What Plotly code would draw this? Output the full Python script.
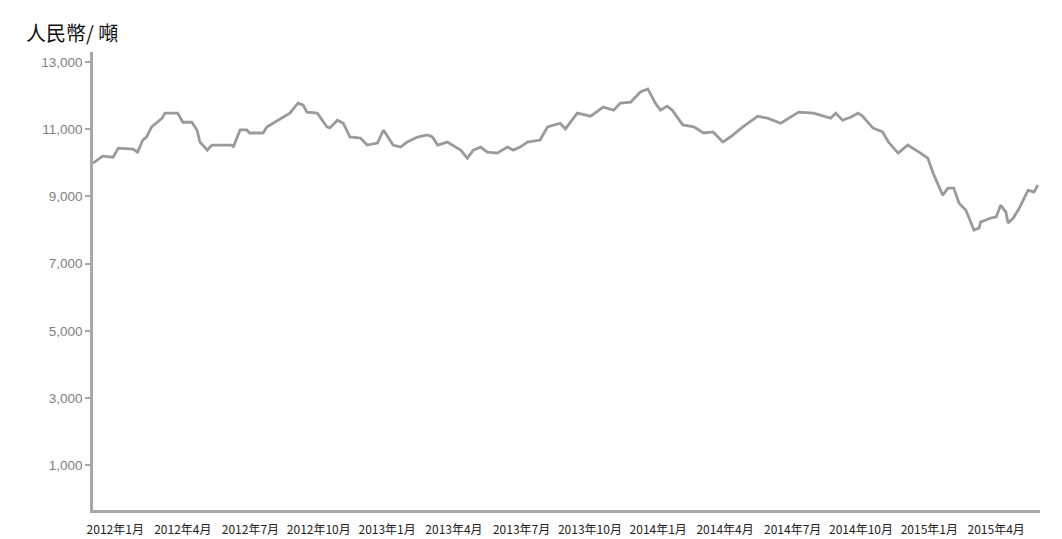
import plotly.graph_objects as go

dates = [
    "2011-12-02", "2011-12-11", "2011-12-15", "2011-12-29", "2012-01-05", "2012-01-25",
    "2012-01-31", "2012-02-07", "2012-02-12", "2012-02-19", "2012-02-26", "2012-03-04",
    "2012-03-08", "2012-03-25", "2012-04-01", "2012-04-13", "2012-04-20", "2012-04-24",
    "2012-05-04", "2012-05-10", "2012-06-06", "2012-06-08", "2012-06-17", "2012-06-26",
    "2012-06-30", "2012-07-18", "2012-07-23", "2012-08-10", "2012-08-23", "2012-09-03",
    "2012-09-10", "2012-09-15", "2012-09-29", "2012-10-12", "2012-10-16", "2012-10-26",
    "2012-11-03", "2012-11-12", "2012-11-26", "2012-12-05", "2012-12-19", "2012-12-27",
    "2013-01-09", "2013-01-19", "2013-01-28", "2013-02-11", "2013-02-24", "2013-03-03",
    "2013-03-10", "2013-03-23", "2013-04-03", "2013-04-10", "2013-04-19", "2013-04-27",
    "2013-05-07", "2013-05-16", "2013-05-29", "2013-06-12", "2013-06-20", "2013-06-29",
    "2013-07-09", "2013-07-26", "2013-08-05", "2013-08-22", "2013-08-29", "2013-09-09",
    "2013-09-14", "2013-10-02", "2013-10-19", "2013-11-02", "2013-11-11", "2013-11-25",
    "2013-12-08", "2013-12-18", "2013-12-28", "2014-01-04", "2014-01-13", "2014-01-20",
    "2014-02-03", "2014-02-18", "2014-03-03", "2014-03-16", "2014-03-29", "2014-04-08",
    "2014-04-25", "2014-05-15", "2014-05-28", "2014-06-15", "2014-06-28", "2014-07-09",
    "2014-07-29", "2014-08-12", "2014-08-21", "2014-08-28", "2014-09-06", "2014-09-17",
    "2014-09-27", "2014-10-03", "2014-10-17", "2014-10-30", "2014-11-07", "2014-11-20",
    "2014-12-03", "2014-12-18", "2014-12-30", "2015-01-06", "2015-01-13", "2015-01-19",
    "2015-01-26", "2015-02-03", "2015-02-10", "2015-02-19", "2015-02-23", "2015-03-02",
    "2015-03-09", "2015-03-11", "2015-03-25", "2015-04-01", "2015-04-07", "2015-04-14",
    "2015-04-17", "2015-04-24", "2015-05-02", "2015-05-14", "2015-05-22", "2015-05-27",
]

prices = [
    9990, 10140, 10200, 10170, 10440, 10410,
    10320, 10680, 10770, 11070, 11210, 11330,
    11480, 11480, 11210, 11210, 10980, 10620,
    10380, 10530, 10530, 10470, 10980, 10980,
    10890, 10890, 11070, 11300, 11480, 11780,
    11720, 11510, 11480, 11070, 11040, 11270,
    11180, 10770, 10740, 10530, 10590, 10980,
    10530, 10470, 10620, 10770, 10830, 10770,
    10530, 10620, 10470, 10380, 10140, 10380,
    10470, 10320, 10290, 10470, 10380, 10470,
    10620, 10680, 11070, 11180, 11010, 11360,
    11480, 11390, 11660, 11570, 11780, 11810,
    12110, 12200, 11780, 11570, 11690, 11570,
    11130, 11070, 10890, 10920, 10620, 10770,
    11070, 11390, 11330, 11180, 11360, 11510,
    11480, 11390, 11330, 11480, 11270, 11360,
    11480, 11390, 11040, 10920, 10620, 10290,
    10530, 10320, 10140, 9700, 9340, 9040,
    9250, 9250, 8800, 8600, 8390, 8000,
    8060, 8240, 8360, 8390, 8740, 8540,
    8210, 8360, 8650, 9190, 9130, 9340,
]

y_ticks = [1000, 3000, 5000, 7000, 9000, 11000, 13000]
y_tick_labels = ["1,000", "3,000", "5,000", "7,000", "9,000", "11,000", "13,000"]

x_ticks = [
    "2012-01-01", "2012-04-01", "2012-07-01", "2012-10-01", "2013-01-01", "2013-04-01",
    "2013-07-01", "2013-10-01", "2014-01-01", "2014-04-01", "2014-07-01", "2014-10-01",
    "2015-01-01", "2015-04-01",
]
x_tick_labels = [
    "2012年1月", "2012年4月", "2012年7月", "2012年10月", "2013年1月", "2013年4月",
    "2013年7月", "2013年10月", "2014年1月", "2014年4月", "2014年7月", "2014年10月",
    "2015年1月", "2015年4月",
]

unit_label = "人民幣/ 噸"

fig = go.Figure()
fig.add_trace(go.Scatter(
    x=dates, y=prices, mode="lines",
    line=dict(color="#9a9a9a", width=2.8),
    hoverinfo="skip", showlegend=False,
))

fig.update_layout(
    width=1062, height=539,
    margin=dict(l=93, r=22, t=52, b=29),
    paper_bgcolor="white", plot_bgcolor="white",
    showlegend=False,
    annotations=[dict(
        text=unit_label, xref="paper", yref="paper",
        x=-0.073, y=1.042, xanchor="left", yanchor="middle",
        showarrow=False,
        font=dict(family="Noto Sans CJK TC", size=20, color="#111111"),
    )],
)

fig.update_xaxes(
    type="date",
    range=["2011-12-02", "2015-05-30"],
    tickvals=x_ticks, ticktext=x_tick_labels,
    showgrid=False, zeroline=False,
    showline=True, linecolor="#a8a8a8", linewidth=2.5,
    ticks="", ticklabelstandoff=7, automargin=False,
    tickfont=dict(family="Noto Sans CJK SC", size=12, color="#222222"),
)

fig.update_yaxes(
    range=[-330, 13300],
    tickvals=y_ticks, ticktext=y_tick_labels,
    showgrid=False, zeroline=False,
    showline=True, linecolor="#a8a8a8", linewidth=2.5,
    ticks="outside", ticklen=5, tickcolor="#a8a8a8", tickwidth=1.5,
    automargin=False,
    tickfont=dict(family="Liberation Sans", size=13.5, color="#808080"),
)

fig.write_html(
    "out.html",
    config={"displayModeBar": False},
    post_script="document.body.style.margin='0';",
)
